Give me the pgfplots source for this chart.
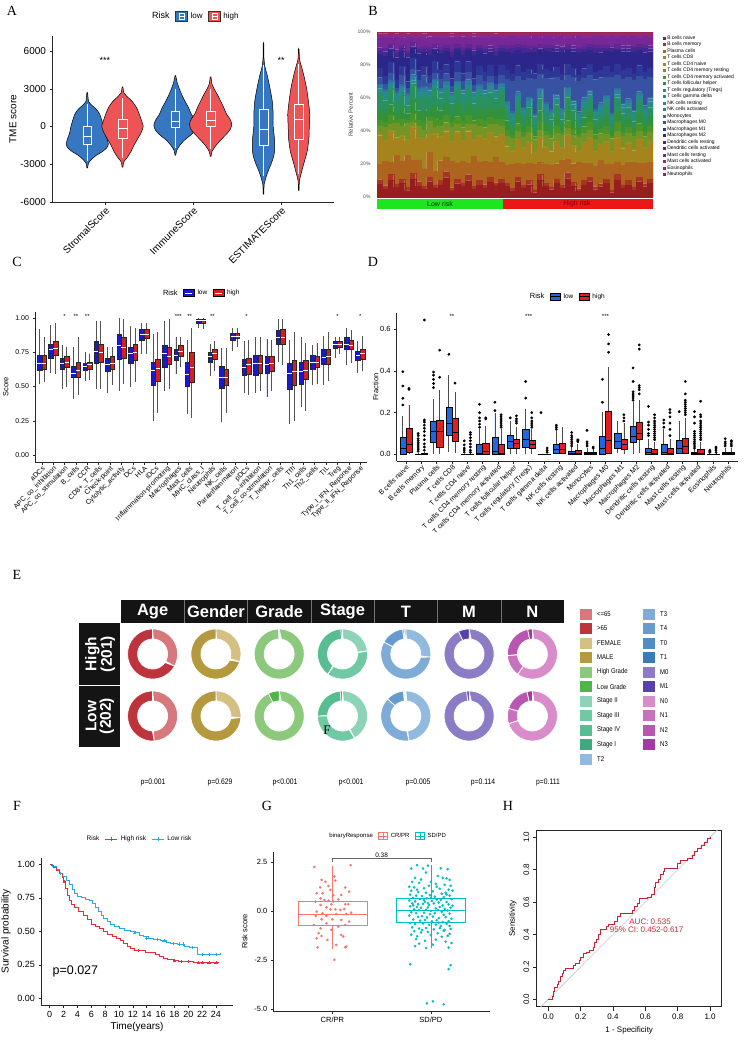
\documentclass[border=0pt]{standalone}
\usepackage{fontspec}
\setmainfont{Liberation Sans}
\newfontfamily\serifL{Liberation Serif}
\newfontfamily\narrow[FakeStretch=0.85]{Liberation Sans}
\usepackage{pgfplots}
\usepackage{pgfplotstable}
\pgfplotsset{compat=1.18}
\usepgfplotslibrary{statistics}
\newcommand{\fs}[2]{\fontsize{#1}{#2}\selectfont}
\definecolor{Alow}{RGB}{55,118,192}
\definecolor{Ahigh}{RGB}{238,84,86}
\definecolor{Clow}{RGB}{25,25,205}
\definecolor{Chigh}{RGB}{215,30,30}
\definecolor{Dlow}{RGB}{30,105,225}
\definecolor{Dhigh}{RGB}{228,30,30}
\definecolor{Fhigh}{RGB}{232,45,55}
\definecolor{Flow}{RGB}{40,172,228}
\definecolor{Gcr}{RGB}{248,118,109}
\definecolor{Gsd}{RGB}{0,191,196}
\definecolor{Hroc}{RGB}{200,35,50}
\definecolor{B1}{RGB}{150,30,30}
\definecolor{B2}{RGB}{168,52,38}
\definecolor{B3}{RGB}{172,100,30}
\definecolor{B4}{RGB}{165,132,30}
\definecolor{B5}{RGB}{150,145,35}
\definecolor{B6}{RGB}{115,148,38}
\definecolor{B7}{RGB}{75,148,40}
\definecolor{B8}{RGB}{50,145,60}
\definecolor{B9}{RGB}{40,145,95}
\definecolor{B10}{RGB}{40,142,118}
\definecolor{B11}{RGB}{40,138,140}
\definecolor{B12}{RGB}{45,125,158}
\definecolor{B13}{RGB}{55,105,160}
\definecolor{B14}{RGB}{55,82,160}
\definecolor{B15}{RGB}{45,55,150}
\definecolor{B16}{RGB}{45,38,138}
\definecolor{B17}{RGB}{70,38,145}
\definecolor{B18}{RGB}{95,38,150}
\definecolor{B19}{RGB}{120,40,150}
\definecolor{B20}{RGB}{140,40,140}
\definecolor{B21}{RGB}{150,40,115}
\definecolor{B22}{RGB}{160,35,75}
\definecolor{Bgreen}{RGB}{30,230,30}
\definecolor{Bred}{RGB}{236,22,22}
\definecolor{Ele}{RGB}{215,120,125}
\definecolor{Egt}{RGB}{190,52,60}
\definecolor{Efe}{RGB}{212,192,130}
\definecolor{Ema}{RGB}{180,153,62}
\definecolor{Ehg}{RGB}{140,201,125}
\definecolor{Elg}{RGB}{78,182,72}
\definecolor{Es2}{RGB}{142,211,184}
\definecolor{Es3}{RGB}{112,201,162}
\definecolor{Es4}{RGB}{88,190,146}
\definecolor{Es1}{RGB}{58,172,128}
\definecolor{Et2}{RGB}{146,186,222}
\definecolor{Et3}{RGB}{126,171,215}
\definecolor{Et4}{RGB}{104,155,205}
\definecolor{Et0}{RGB}{82,140,196}
\definecolor{Et1}{RGB}{62,122,182}
\definecolor{Em0}{RGB}{140,124,198}
\definecolor{Em1}{RGB}{90,64,170}
\definecolor{En0}{RGB}{216,140,202}
\definecolor{En1}{RGB}{200,114,190}
\definecolor{En2}{RGB}{184,86,176}
\definecolor{En3}{RGB}{166,58,162}
\pgfplotsset{
 gg/.style={scale only axis, axis x line*=bottom, axis y line*=left,
  axis line style={-, black!85, line width=0.6pt}, tick align=outside,
  major tick length=2.5pt, tick style={black!85, line width=0.5pt},
  /pgf/number format/assume math mode=true, clip mode=individual,
  legend columns=-1, boxplot/draw direction=y,
  legend style={draw=none, fill=none, anchor=center, inner sep=0pt,
   /tikz/every odd column/.append style={column sep=2.5pt},
   /tikz/every even column/.append style={column sep=5pt}, nodes={inner sep=0.5pt}}},
}
\newcommand{\vio}[3]{\addplot[forget plot, fill=#2, draw=black, line width=0.5pt, smooth, tension=0.35] table[row sep=\\, x expr=#1+\thisrow{w}, y=y] {y w\\#3};}
\newcommand{\abx}[6]{\addplot[forget plot, draw=white, line width=0.6pt, boxplot/draw direction=y, boxplot prepared={draw position=#1, lower whisker=#2, lower quartile=#3, median=#4, upper quartile=#5, upper whisker=#6, box extend=0.1, whisker extend=0}] coordinates {};}
\newcommand{\cbx}[7]{\addplot[forget plot, fill=#7, draw=black!85, line width=0.35pt, boxplot/draw direction=y, boxplot/every whisker/.style={draw=gray!65!black, line width=0.9pt}, boxplot/every median/.style={draw=white, line width=0.5pt}, boxplot prepared={draw position=#1, lower whisker=#2, lower quartile=#3, median=#4, upper quartile=#5, upper whisker=#6, box extend=0.4, whisker extend=0}] coordinates {};}
\newcommand{\dbx}[7]{\addplot[forget plot, fill=#7, draw=black, line width=0.4pt, boxplot/draw direction=y, boxplot/every whisker/.style={draw=gray!60!black, line width=0.8pt}, boxplot/every median/.style={draw=black, line width=0.9pt}, boxplot prepared={draw position=#1, lower whisker=#2, lower quartile=#3, median=#4, upper quartile=#5, upper whisker=#6, box extend=0.4, whisker extend=0}] coordinates {};}
\newcommand{\dbo}[8]{\addplot[forget plot, fill=#7, draw=black, line width=0.4pt, mark=*, mark size=1.2pt, mark options={fill=black, draw=black}, boxplot/draw direction=y, boxplot/every whisker/.style={draw=gray!60!black, line width=0.8pt}, boxplot/every median/.style={draw=black, line width=0.9pt}, boxplot prepared={draw position=#1, lower whisker=#2, lower quartile=#3, median=#4, upper quartile=#5, upper whisker=#6, box extend=0.4, whisker extend=0}] table[row sep=\\, y index=0] {v\\#8};}
\newcommand{\seg}[5]{\addplot[forget plot, fill=#5, draw=white, line width=0.7pt, variable=\t, samples at={0,0.025,...,1,1.0001,1.025,1.05,...,2}] ({#1+(\t<=1?25:15)*sin(360*(#3+(#4-#3)*(\t<=1?\t:2-\t)))}, {-#2+(\t<=1?25:15)*cos(360*(#3+(#4-#3)*(\t<=1?\t:2-\t)))}) -- cycle;}
\newcommand{\eleg}[4]{\fill[#3] (#1,-#2+5.5) rectangle (#1+12,-#2-5.5); \node[anchor=west, font=\narrow\fs{7}{8}, inner sep=0pt] at (#1+17,-#2) {#4};}
\newcommand{\st}[3]{\node[font=\fs{6}{7}] at (axis cs:#1,#2) {#3};}
\pgfplotstableread{
id a1 a2 a3 a4 a5 a6 a7 a8 a9 a10 a11 a12 a13 a14 a15 a16 a17 a18 a19 a20 a21 a22
1 8 3 10 18 1 5 4 7 9 1 3 2 1 4 6 9 2 2 6 2 1 1
2 5 2 15 12 1 8 3 6 7 1 4 1 1 3 5 12 3 2 7 1 1 1
3 11 4 8 20 1 4 6 7 10 1 2 2 1 5 7 8 1 3 4 2 1 1
4 6 2 18 10 1 9 2 5 6 1 4 1 1 2 5 14 3 2 8 1 1 1
5 9 3 12 16 1 6 5 8 8 1 3 2 1 6 6 10 2 2 5 2 1 1
6 4 2 20 9 1 10 2 4 5 1 5 1 1 3 4 15 3 1 9 1 1 1
7 12 4 9 22 1 3 6 8 11 1 2 3 1 4 7 7 1 3 3 2 1 1
8 7 3 14 14 1 7 4 6 8 1 3 2 1 5 6 11 2 2 6 2 1 1
9 5 2 11 19 1 5 5 7 9 1 3 2 1 7 6 9 2 2 5 2 1 1
10 10 3 16 11 1 8 3 5 7 1 4 1 1 3 5 13 3 2 7 1 1 1
11 6 2 9 24 1 4 6 8 11 1 2 3 1 4 8 7 1 3 4 2 1 1
12 8 3 13 15 1 7 4 6 8 1 3 2 1 6 6 11 2 2 6 2 1 1
13 13 4 10 17 1 5 5 7 9 1 3 2 1 5 6 9 2 2 5 2 1 1
14 4 2 17 12 1 9 3 5 7 1 4 1 1 4 5 14 3 2 8 1 1 1
15 9 3 11 20 1 5 5 8 10 1 2 2 1 6 7 8 1 3 4 2 1 1
16 7 2 14 13 1 8 4 6 7 1 4 2 1 5 5 12 3 2 7 1 1 1
17 11 4 8 21 1 4 6 7 10 1 2 3 1 5 7 8 1 3 4 2 1 1
18 5 2 19 10 1 10 2 5 6 1 5 1 1 4 4 15 3 1 8 1 1 1
19 8 3 12 17 1 6 5 7 9 1 3 2 1 6 6 10 2 2 5 2 1 1
20 6 2 15 14 1 7 4 6 8 1 3 2 1 5 6 12 2 2 6 2 1 1
21 10 3 10 19 1 5 5 7 9 1 3 2 1 4 7 9 2 2 5 2 1 1
22 7 2 16 12 1 8 3 5 7 1 4 1 1 3 5 13 3 2 7 1 1 1
23 9 3 11 18 1 5 5 8 10 1 2 2 1 5 7 9 2 2 5 2 1 1
24 7 2 12 12 1 6 4 6 6 1 3 2 1 14 6 12 2 2 5 2 1 1
25 4 2 16 8 1 8 2 5 4 1 4 1 1 20 5 14 3 2 6 1 1 1
26 10 3 9 15 1 5 5 7 7 1 3 2 1 10 7 10 2 2 4 2 1 1
27 6 2 14 10 1 7 3 5 5 1 4 1 1 18 5 13 3 2 6 1 1 1
28 8 3 11 13 1 6 4 6 6 1 3 2 1 12 6 11 2 2 5 2 1 1
29 3 2 18 7 1 9 2 4 4 1 5 1 1 24 4 15 3 1 7 1 1 1
30 11 4 8 16 1 4 6 7 8 1 2 3 1 9 7 9 1 3 4 2 1 1
31 7 2 13 11 1 7 3 6 5 1 4 2 1 16 6 12 2 2 6 1 1 1
32 5 2 15 9 1 8 3 5 5 1 4 1 1 21 5 13 3 2 6 1 1 1
33 9 3 10 14 1 5 5 7 7 1 3 2 1 11 7 10 2 2 5 2 1 1
34 6 2 17 8 1 9 2 4 4 1 5 1 1 19 4 15 3 1 7 1 1 1
35 12 4 9 15 1 4 5 7 8 1 2 3 1 8 7 9 1 3 4 2 1 1
36 7 3 12 11 1 7 4 6 6 1 3 2 1 15 6 11 2 2 5 2 1 1
37 4 2 19 7 1 10 2 4 4 1 5 1 1 22 4 16 3 1 8 1 1 1
38 8 3 11 13 1 6 4 6 6 1 3 2 1 13 6 11 2 2 5 2 1 1
39 10 3 9 16 1 5 5 7 7 1 3 2 1 10 7 9 2 2 4 2 1 1
40 5 2 14 9 1 8 3 5 5 1 4 1 1 20 5 13 3 2 6 1 1 1
41 7 2 16 10 1 7 3 5 5 1 4 2 1 17 5 12 3 2 6 1 1 1
42 9 3 10 14 1 5 5 7 7 1 3 2 1 12 7 10 2 2 5 2 1 1
43 3 2 18 8 1 9 2 4 4 1 5 1 1 25 4 14 3 1 7 1 1 1
44 11 4 8 15 1 4 6 7 8 1 2 3 1 9 7 9 1 3 4 2 1 1
45 6 2 13 11 1 7 3 6 5 1 4 2 1 16 6 12 2 2 6 1 1 1
46 8 3 12 12 1 6 4 6 6 1 3 2 1 14 6 11 2 2 5 2 1 1
47 5 2 17 8 1 9 2 4 4 1 5 1 1 21 4 15 3 1 7 1 1 1
48 10 3 9 15 1 5 5 7 7 1 3 2 1 10 7 10 2 2 4 2 1 1
49 7 2 14 10 1 7 3 5 5 1 4 2 1 18 5 13 3 2 6 1 1 1
50 9 3 11 13 1 6 4 6 6 1 3 2 1 13 6 11 2 2 5 2 1 1
}\Btab
\pgfplotstablecreatecol[create col/expr={\thisrow{a1}+\thisrow{a2}+\thisrow{a3}+\thisrow{a4}+\thisrow{a5}+\thisrow{a6}+\thisrow{a7}+\thisrow{a8}+\thisrow{a9}+\thisrow{a10}+\thisrow{a11}+\thisrow{a12}+\thisrow{a13}+\thisrow{a14}+\thisrow{a15}+\thisrow{a16}+\thisrow{a17}+\thisrow{a18}+\thisrow{a19}+\thisrow{a20}+\thisrow{a21}+\thisrow{a22}}]{tot}{\Btab}
\begin{document}
\begin{tikzpicture}[x=1pt,y=1pt]
\useasboundingbox (0,0) rectangle (745,-1044);
% ================= A (TME score in thousands) =================
\begin{axis}[gg, at={(52pt,-202pt)}, anchor=south west, width=282pt, height=166pt,
 xmin=0.4, xmax=3.6, ymin=-6, ymax=7.2,
 xtick={1,2,3}, xticklabels={StromalScore,ImmuneScore,ESTIMATEScore},
 xticklabel style={rotate=45, anchor=north east, font=\fs{10}{12}, inner sep=1pt},
 ytick={-6,-3,0,3,6}, yticklabels={-6000,-3000,0,3000,6000},
 yticklabel style={font=\fs{10}{12}},
 ylabel={TME score}, ylabel style={font=\fs{10}{12}}, ylabel shift=-3pt,
 legend style={at={(0.504,1.12)}, font=\fs{8}{10}}]
\addlegendimage{empty legend}\addlegendentry{\fs{9}{10}Risk}
\addlegendimage{legend image code/.code={\draw[fill=Alow,draw=black!80,line width=0.4pt](0pt,-5pt) rectangle (12pt,5pt);\draw[white,line width=0.5pt](3.5pt,-3.2pt) rectangle (8.5pt,3.2pt)(3.5pt,0pt)--(8.5pt,0pt);}}\addlegendentry{low}
\addlegendimage{legend image code/.code={\draw[fill=Ahigh,draw=black!80,line width=0.4pt](0pt,-5pt) rectangle (12pt,5pt);\draw[white,line width=0.5pt](3.5pt,-3.2pt) rectangle (8.5pt,3.2pt)(3.5pt,0pt)--(8.5pt,0pt);}}\addlegendentry{high}
\vio{0.8}{Alow}{-3.3 0.004\\-2.9 0.015\\-2.6 0.05\\-2.3 0.1\\-2.0 0.17\\-1.7 0.22\\-1.4 0.24\\-1.0 0.225\\-0.5 0.2\\0 0.185\\0.5 0.165\\1.0 0.14\\1.4 0.1\\1.7 0.05\\2.0 0.015\\2.7 0.004\\2.7 -0.004\\2.0 -0.015\\1.7 -0.05\\1.4 -0.1\\1.0 -0.14\\0.5 -0.165\\0 -0.185\\-0.5 -0.2\\-1.0 -0.225\\-1.4 -0.24\\-1.7 -0.22\\-2.0 -0.17\\-2.3 -0.1\\-2.6 -0.05\\-2.9 -0.015\\-3.3 -0.004\\}
\vio{1.2}{Ahigh}{-3.25 0.004\\-2.8 0.015\\-2.5 0.05\\-2.0 0.095\\-1.5 0.13\\-1.0 0.17\\-0.5 0.21\\0 0.235\\0.5 0.215\\1.0 0.19\\1.5 0.16\\2.0 0.11\\2.4 0.05\\2.7 0.015\\3.15 0.004\\3.15 -0.004\\2.7 -0.015\\2.4 -0.05\\2.0 -0.11\\1.5 -0.16\\1.0 -0.19\\0.5 -0.215\\0 -0.235\\-0.5 -0.21\\-1.0 -0.17\\-1.5 -0.13\\-2.0 -0.095\\-2.5 -0.05\\-2.8 -0.015\\-3.25 -0.004\\}
\vio{1.8}{Alow}{-2.3 0.004\\-1.9 0.015\\-1.5 0.05\\-1.1 0.1\\-0.7 0.17\\-0.3 0.225\\0.1 0.245\\0.5 0.225\\1.0 0.18\\1.5 0.15\\2.0 0.11\\2.5 0.075\\3.0 0.045\\3.5 0.02\\4.05 0.004\\4.05 -0.004\\3.5 -0.02\\3.0 -0.045\\2.5 -0.075\\2.0 -0.11\\1.5 -0.15\\1.0 -0.18\\0.5 -0.225\\0.1 -0.245\\-0.3 -0.225\\-0.7 -0.17\\-1.1 -0.1\\-1.5 -0.05\\-1.9 -0.015\\-2.3 -0.004\\}
\vio{2.2}{Ahigh}{-2.4 0.004\\-2.0 0.015\\-1.6 0.05\\-1.1 0.11\\-0.6 0.18\\-0.2 0.225\\0.2 0.24\\0.6 0.22\\1.0 0.18\\1.5 0.15\\2.0 0.115\\2.5 0.08\\3.0 0.04\\3.4 0.015\\3.95 0.004\\3.95 -0.004\\3.4 -0.015\\3.0 -0.04\\2.5 -0.08\\2.0 -0.115\\1.5 -0.15\\1.0 -0.18\\0.6 -0.22\\0.2 -0.24\\-0.2 -0.225\\-0.6 -0.18\\-1.1 -0.11\\-1.6 -0.05\\-2.0 -0.015\\-2.4 -0.004\\}
\vio{2.8}{Alow}{-5.4 0.003\\-4.6 0.008\\-4.0 0.03\\-3.5 0.055\\-3.0 0.085\\-2.5 0.11\\-2.0 0.125\\-1.0 0.125\\0 0.11\\1.0 0.11\\2.0 0.1\\3.0 0.075\\4.0 0.045\\4.8 0.015\\5.5 0.005\\6.6 0.003\\6.6 -0.003\\5.5 -0.005\\4.8 -0.015\\4.0 -0.045\\3.0 -0.075\\2.0 -0.1\\1.0 -0.11\\0 -0.11\\-1.0 -0.125\\-2.0 -0.125\\-2.5 -0.11\\-3.0 -0.085\\-3.5 -0.055\\-4.0 -0.03\\-4.6 -0.008\\-5.4 -0.003\\}
\vio{3.2}{Ahigh}{-5.1 0.003\\-4.3 0.008\\-3.8 0.025\\-3.0 0.055\\-2.0 0.095\\-1.0 0.115\\0 0.12\\1.0 0.125\\2.0 0.11\\3.0 0.09\\4.0 0.06\\4.8 0.03\\5.3 0.01\\6.15 0.003\\6.15 -0.003\\5.3 -0.01\\4.8 -0.03\\4.0 -0.06\\3.0 -0.09\\2.0 -0.11\\1.0 -0.125\\0 -0.12\\-1.0 -0.115\\-2.0 -0.095\\-3.0 -0.055\\-3.8 -0.025\\-4.3 -0.008\\-5.1 -0.003\\}
\abx{0.8}{-2.7}{-1.4}{-0.75}{0.05}{1.8}
\abx{1.2}{-2.5}{-0.9}{-0.1}{0.55}{2.3}
\abx{1.8}{-1.7}{-0.08}{0.4}{1.25}{3.0}
\abx{2.2}{-1.8}{0}{0.5}{1.25}{3.0}
\abx{2.8}{-3.9}{-1.5}{-0.25}{1.35}{4.9}
\abx{3.2}{-3.8}{-1.05}{0.6}{1.8}{5.0}
\node[font=\fs{9}{10}] at (axis cs:1,5.3) {***};
\node[font=\fs{9}{10}] at (axis cs:3,5.3) {**};
\end{axis}
% ================= B =================
\begin{axis}[scale only axis, at={(377pt,-197pt)}, anchor=south west, width=276pt, height=165pt,
 ybar stacked, bar width=1, xmin=0.5, xmax=50.5, ymin=0, ymax=100,
 axis line style={draw=none}, xtick=\empty, ytick={0,20,40,60,80,100},
 major tick length=0pt, /pgf/number format/assume math mode=true,
 yticklabel={\pgfmathprintnumber{\tick}\%},
 yticklabel style={font=\fs{5}{6}, text=black!70, xshift=-3pt},
 ylabel={Relative Percent}, ylabel style={font=\fs{6}{7}, text=black!75, yshift=-2pt},
 legend columns=1, legend cell align=left,
 legend style={draw=none, fill=none, at={(1.035,0.985)}, anchor=north west, inner sep=0pt, font=\fs{5}{6}, nodes={inner sep=0.6pt, text height=4.1pt, text depth=1.2pt}, /tikz/every odd column/.append style={column sep=1.5pt}},
 legend entries={B cells naive,B cells memory,Plasma cells,T cells CD8,T cells CD4 naive,T cells CD4 memory resting,T cells CD4 memory activated,T cells follicular helper,T cells regulatory (Tregs),T cells gamma delta,NK cells resting,NK cells activated,Monocytes,Macrophages M0,Macrophages M1,Macrophages M2,Dendritic cells resting,Dendritic cells activated,Mast cells resting,Mast cells activated,Eosinophils,Neutrophils}]
\pgfplotsinvokeforeach{1,...,22}{\addplot[fill=B#1, draw=B#1, line width=0.1pt, legend image code/.code={\fill[B#1] (0pt,-1.1pt) rectangle (2.2pt,1.1pt);}] table[x=id, y expr=100*\thisrow{a#1}/\thisrow{tot}] {\Btab};}
\end{axis}
\fill[Bgreen] (377,-199) rectangle (503,-208.5);
\fill[Bred] (503,-199) rectangle (653,-208.5);
\node[font=\fs{7}{8}, text=black!80!green] at (440,-203.8) {Low risk};
\node[font=\fs{7}{8}, text=red!50!black] at (577,-203.8) {High risk};
% ================= C =================
\begin{scope}
\clip (0,-255) rectangle (371,-531);
\begin{axis}[gg, at={(35pt,-462pt)}, anchor=south west, width=332pt, height=150.3pt,
 xmin=0.4, xmax=29.6, ymin=-0.051, ymax=1.046,
 xtick={1,...,29}, xticklabels={aDCs,APC\_co\_inhibition,APC\_co\_stimulation,B\_cells,CCR,CD8+\_T\_cells,Check-point,Cytolytic\_activity,DCs,HLA,iDCs,Inflammation-promoting,Macrophages,Mast\_cells,MHC\_class\_I,Neutrophils,NK\_cells,Parainflammation,pDCs,T\_cell\_co-inhibition,T\_cell\_co-stimulation,T\_helper\_cells,Tfh,Th1\_cells,Th2\_cells,TIL,Treg,Type\_I\_IFN\_Reponse,Type\_II\_IFN\_Reponse},
 xticklabel style={rotate=45, anchor=north east, font=\fs{7}{8}, inner sep=0.5pt},
 ytick={0,0.25,0.5,0.75,1},
 yticklabel style={font=\fs{7}{8}, /pgf/number format/.cd, fixed, fixed zerofill, precision=2},
 ylabel={Score}, ylabel style={font=\fs{7.5}{9}},
 legend style={at={(0.497,1.124)}, font=\fs{6.5}{8}}]
\addlegendimage{empty legend}\addlegendentry{\fs{7.5}{9}Risk}
\addlegendimage{legend image code/.code={\draw[fill=Clow,draw=black,line width=0.4pt](0pt,-3.5pt) rectangle (11pt,3.5pt);\draw[white,line width=0.4pt](2pt,0pt)--(9pt,0pt);}}\addlegendentry{low}
\addlegendimage{legend image code/.code={\draw[fill=Chigh,draw=black,line width=0.4pt](0pt,-3.5pt) rectangle (11pt,3.5pt);\draw[white,line width=0.4pt](2pt,0pt)--(9pt,0pt);}}\addlegendentry{high}
\cbx{0.8}{0.52}{0.62}{0.67}{0.73}{0.92}{Clow}\cbx{1.2}{0.53}{0.63}{0.67}{0.73}{0.86}{Chigh}
\cbx{1.8}{0.60}{0.71}{0.77}{0.81}{0.95}{Clow}\cbx{2.2}{0.59}{0.73}{0.78}{0.83}{0.96}{Chigh}
\cbx{2.8}{0.48}{0.63}{0.67}{0.71}{0.80}{Clow}\cbx{3.2}{0.50}{0.64}{0.68}{0.72}{0.79}{Chigh}
\cbx{3.8}{0.41}{0.57}{0.60}{0.65}{0.79}{Clow}\cbx{4.2}{0.44}{0.57}{0.62}{0.68}{0.86}{Chigh}
\cbx{4.8}{0.54}{0.62}{0.65}{0.67}{0.75}{Clow}\cbx{5.2}{0.55}{0.63}{0.66}{0.68}{0.74}{Chigh}
\cbx{5.8}{0.48}{0.67}{0.76}{0.83}{0.98}{Clow}\cbx{6.2}{0.48}{0.68}{0.75}{0.81}{0.98}{Chigh}
\cbx{6.8}{0.45}{0.61}{0.66}{0.71}{0.79}{Clow}\cbx{7.2}{0.51}{0.63}{0.67}{0.72}{0.79}{Chigh}
\cbx{7.8}{0.47}{0.70}{0.80}{0.88}{1.00}{Clow}\cbx{8.2}{0.52}{0.71}{0.79}{0.86}{0.99}{Chigh}
\cbx{8.8}{0.50}{0.67}{0.74}{0.79}{0.94}{Clow}\cbx{9.2}{0.53}{0.69}{0.75}{0.81}{0.93}{Chigh}
\cbx{9.8}{0.74}{0.84}{0.88}{0.92}{0.96}{Clow}\cbx{10.2}{0.74}{0.85}{0.88}{0.92}{0.96}{Chigh}
\cbx{10.8}{0.25}{0.51}{0.62}{0.68}{0.88}{Clow}\cbx{11.2}{0.31}{0.54}{0.63}{0.70}{0.90}{Chigh}
\cbx{11.8}{0.47}{0.64}{0.74}{0.80}{0.98}{Clow}\cbx{12.2}{0.48}{0.66}{0.72}{0.79}{0.99}{Chigh}
\cbx{12.8}{0.59}{0.69}{0.73}{0.77}{0.86}{Clow}\cbx{13.2}{0.64}{0.72}{0.76}{0.80}{0.86}{Chigh}
\cbx{13.8}{0.30}{0.50}{0.59}{0.68}{0.84}{Clow}\cbx{14.2}{0.27}{0.53}{0.64}{0.75}{0.93}{Chigh}
\cbx{14.8}{0.93}{0.96}{0.98}{0.995}{1.00}{Clow}\cbx{15.2}{0.92}{0.96}{0.98}{0.99}{1.00}{Chigh}
\cbx{15.8}{0.58}{0.68}{0.72}{0.75}{0.81}{Clow}\cbx{16.2}{0.61}{0.70}{0.74}{0.77}{0.83}{Chigh}
\cbx{16.8}{0.24}{0.49}{0.57}{0.65}{0.78}{Clow}\cbx{17.2}{0.31}{0.51}{0.57}{0.63}{0.78}{Chigh}
\cbx{17.8}{0.76}{0.84}{0.87}{0.89}{0.93}{Clow}\cbx{18.2}{0.79}{0.85}{0.87}{0.89}{0.93}{Chigh}
\cbx{18.8}{0.45}{0.58}{0.64}{0.70}{0.83}{Clow}\cbx{19.2}{0.44}{0.59}{0.66}{0.71}{0.84}{Chigh}
\cbx{19.8}{0.45}{0.58}{0.67}{0.73}{0.86}{Clow}\cbx{20.2}{0.47}{0.60}{0.67}{0.73}{0.86}{Chigh}
\cbx{20.8}{0.42}{0.60}{0.66}{0.72}{0.85}{Clow}\cbx{21.2}{0.47}{0.61}{0.67}{0.72}{0.84}{Chigh}
\cbx{21.8}{0.68}{0.81}{0.86}{0.91}{0.99}{Clow}\cbx{22.2}{0.66}{0.81}{0.86}{0.92}{0.99}{Chigh}
\cbx{22.8}{0.23}{0.48}{0.60}{0.67}{0.84}{Clow}\cbx{23.2}{0.25}{0.51}{0.61}{0.69}{0.90}{Chigh}
\cbx{23.8}{0.35}{0.52}{0.61}{0.68}{0.86}{Clow}\cbx{24.2}{0.32}{0.55}{0.62}{0.69}{0.82}{Chigh}
\cbx{24.8}{0.51}{0.63}{0.68}{0.73}{0.80}{Clow}\cbx{25.2}{0.52}{0.64}{0.68}{0.72}{0.82}{Chigh}
\cbx{25.8}{0.51}{0.66}{0.71}{0.77}{0.87}{Clow}\cbx{26.2}{0.54}{0.66}{0.72}{0.77}{0.90}{Chigh}
\cbx{26.8}{0.71}{0.78}{0.81}{0.83}{0.86}{Clow}\cbx{27.2}{0.74}{0.79}{0.81}{0.83}{0.86}{Chigh}
\cbx{27.8}{0.66}{0.77}{0.81}{0.86}{0.93}{Clow}\cbx{28.2}{0.67}{0.77}{0.80}{0.84}{0.91}{Chigh}
\cbx{28.8}{0.60}{0.69}{0.73}{0.76}{0.83}{Clow}\cbx{29.2}{0.61}{0.70}{0.74}{0.77}{0.87}{Chigh}
\st{3}{1.015}{*}\st{4}{1.015}{**}\st{5}{1.015}{**}\st{13}{1.015}{***}\st{14}{1.015}{**}\st{16}{1.015}{**}\st{19}{1.015}{*}\st{27}{1.015}{*}\st{29}{1.015}{*}
\end{axis}
\end{scope}
% ================= D =================
\begin{scope}
\clip (371,-255) rectangle (745,-531);
\begin{axis}[gg, at={(396.7pt,-461pt)}, anchor=south west, width=340.8pt, height=147.7pt,
 xmin=0.4, xmax=22.6, ymin=-0.032, ymax=0.677,
 xtick={1,...,22}, xticklabels={B cells naive,B cells memory,Plasma cells,T cells CD8,T cells CD4 naive,T cells CD4 memory resting,T cells CD4 memory activated,T cells follicular helper,T cells regulatory (Tregs),T cells gamma delta,NK cells resting,NK cells activated,Monocytes,Macrophages M0,Macrophages M1,Macrophages M2,Dendritic cells resting,Dendritic cells activated,Mast cells resting,Mast cells activated,Eosinophils,Neutrophils},
 xticklabel style={rotate=45, anchor=north east, font=\fs{7}{8}, inner sep=0.5pt},
 ytick={0,0.2,0.4,0.6},
 yticklabel style={font=\fs{7.5}{9}, /pgf/number format/.cd, fixed, fixed zerofill, precision=1},
 ylabel={Fraction}, ylabel style={font=\fs{7.5}{9}}, ylabel shift=-5pt,
 legend style={at={(0.497,1.112)}, font=\fs{6.5}{8}}]
\addlegendimage{empty legend}\addlegendentry{\fs{7.5}{9}Risk}
\addlegendimage{legend image code/.code={\draw[fill=Dlow,draw=black,line width=0.4pt](0pt,-3.5pt) rectangle (10pt,3.5pt);\draw[black,line width=0.6pt](0pt,0pt)--(10pt,0pt);}}\addlegendentry{low}
\addlegendimage{legend image code/.code={\draw[fill=Dhigh,draw=black,line width=0.4pt](0pt,-3.5pt) rectangle (10pt,3.5pt);\draw[black,line width=0.6pt](0pt,0pt)--(10pt,0pt);}}\addlegendentry{high}
\dbo{0.8}{0}{0.003}{0.029}{0.083}{0.186}{Dlow}{0.237\\0.269\\0.328\\0.397\\}
\dbo{1.2}{0}{0.008}{0.046}{0.125}{0.237}{Dhigh}{0.312\\0.317\\}
\dbo{1.8}{0}{0}{0}{0.003}{0.008}{Dlow}{0.015\\0.025\\0.035\\0.045\\0.055\\0.065\\0.075\\0.09\\0.10\\}
\dbo{2.2}{0}{0}{0}{0.004}{0.01}{Dhigh}{0.02\\0.035\\0.05\\0.07\\0.09\\0.11\\0.125\\0.14\\0.155\\0.165\\0.645\\}
\dbo{2.8}{0}{0.06}{0.112}{0.16}{0.265}{Dlow}{0.32\\0.34\\0.36\\0.38\\0.395\\}
\dbo{3.2}{0}{0.035}{0.112}{0.165}{0.31}{Dhigh}{0.37\\0.50\\}
\dbo{3.8}{0.01}{0.09}{0.148}{0.225}{0.38}{Dlow}{0.48\\}
\dbo{4.2}{0.005}{0.065}{0.103}{0.172}{0.30}{Dhigh}{0.342\\}
\dbo{4.8}{0}{0}{0}{0}{0.001}{Dlow}{0.01\\0.02\\0.03\\0.045\\0.065\\}
\dbo{5.2}{0}{0}{0}{0.002}{0.005}{Dhigh}{0.01\\0.02\\0.035\\0.05\\0.065\\0.08\\0.095\\0.105\\}
\dbo{5.8}{0}{0}{0.005}{0.05}{0.12}{Dlow}{0.13\\0.145\\0.16\\0.175\\0.20\\0.24\\}
\dbo{6.2}{0}{0}{0.015}{0.055}{0.135}{Dhigh}{0.17\\0.175\\}
\dbo{6.8}{0}{0}{0.015}{0.08}{0.20}{Dlow}{0.21\\0.25\\}
\dbo{7.2}{0}{0}{0.005}{0.05}{0.12}{Dhigh}{0.13\\0.14\\0.15\\0.16\\0.17\\0.18\\0.19\\}
\dbo{7.8}{0}{0.03}{0.06}{0.09}{0.16}{Dlow}{0.175\\}
\dbo{8.2}{0}{0.03}{0.05}{0.075}{0.13}{Dhigh}{0.15\\0.16\\0.17\\0.185\\}
\dbo{8.8}{0}{0.035}{0.07}{0.12}{0.22}{Dlow}{0.27\\0.35\\}
\dbo{9.2}{0}{0.03}{0.048}{0.068}{0.12}{Dhigh}{0.13\\0.14\\0.15\\0.16\\0.175\\0.20\\}
\dbo{9.8}{0}{0}{0}{0}{0.001}{Dlow}{0.20\\}
\dbo{10.2}{0}{0}{0}{0.002}{0.004}{Dhigh}{0.01\\0.02\\0.03\\}
\dbo{10.8}{0}{0.005}{0.025}{0.048}{0.11}{Dlow}{0.12\\0.13\\0.14\\}
\dbx{11.2}{0}{0.005}{0.022}{0.053}{0.13}{Dhigh}
\dbo{11.8}{0}{0}{0.003}{0.015}{0.035}{Dlow}{0.04\\0.05\\0.06\\0.07\\0.08\\0.09\\0.105\\}
\dbo{12.2}{0}{0}{0.005}{0.022}{0.05}{Dhigh}{0.06\\0.065\\0.07\\}
\dbo{12.8}{0}{0}{0.003}{0.012}{0.03}{Dlow}{0.04\\0.05\\0.06\\0.115\\}
\dbo{13.2}{0}{0}{0.002}{0.01}{0.025}{Dhigh}{0.03\\0.035\\}
\dbo{13.8}{0}{0.003}{0.03}{0.085}{0.205}{Dlow}{0.25\\0.36\\}
\dbo{14.2}{0}{0.005}{0.065}{0.208}{0.42}{Dhigh}{0.49\\0.53\\0.575\\}
\dbx{14.8}{0.005}{0.03}{0.063}{0.10}{0.16}{Dlow}
\dbo{15.2}{0}{0.025}{0.048}{0.075}{0.15}{Dhigh}{0.16\\0.175\\0.19\\}
\dbo{15.8}{0}{0.058}{0.085}{0.135}{0.25}{Dlow}{0.26\\0.27\\0.28\\0.29\\0.30\\0.35\\0.415\\}
\dbo{16.2}{0.005}{0.075}{0.10}{0.152}{0.26}{Dhigh}{0.29\\0.31\\0.32\\0.33\\0.505\\0.525\\}
\dbo{16.8}{0}{0}{0.01}{0.03}{0.075}{Dlow}{0.09\\0.10\\0.12\\0.14\\0.155\\0.23\\}
\dbo{17.2}{0}{0}{0.005}{0.025}{0.06}{Dhigh}{0.07\\0.08\\0.09\\0.10\\0.11\\0.12\\0.13\\0.14\\0.15\\0.16\\0.175\\0.19\\}
\dbo{17.8}{0}{0}{0.01}{0.05}{0.12}{Dlow}{0.13\\0.15\\0.165\\}
\dbo{18.2}{0}{0}{0.005}{0.03}{0.075}{Dhigh}{0.09\\0.12\\0.15\\0.18\\0.20\\0.215\\}
\dbo{18.8}{0}{0.005}{0.03}{0.07}{0.16}{Dlow}{0.205\\}
\dbo{19.2}{0}{0.005}{0.04}{0.078}{0.175}{Dhigh}{0.19\\0.20\\0.21\\0.22\\0.23\\0.24\\0.25\\0.26\\0.29\\0.35\\}
\dbo{19.8}{0}{0}{0.002}{0.01}{0.025}{Dlow}{0.03\\0.04\\0.05\\0.06\\0.07\\0.08\\0.09\\0.10\\0.11\\0.15\\0.18\\0.205\\}
\dbo{20.2}{0}{0}{0.005}{0.025}{0.06}{Dhigh}{0.07\\0.08\\0.09\\0.10\\0.11\\0.12\\0.13\\0.14\\0.15\\0.16\\0.18\\0.19\\0.255\\}
\dbo{20.8}{0}{0}{0}{0.002}{0.005}{Dlow}{0.01\\0.015\\0.02\\}
\dbo{21.2}{0}{0}{0}{0.003}{0.008}{Dhigh}{0.01\\0.02\\0.03\\0.035\\}
\dbo{21.8}{0}{0}{0.003}{0.012}{0.03}{Dlow}{0.04\\0.05\\0.06\\0.075\\}
\dbo{22.2}{0}{0}{0.004}{0.012}{0.03}{Dhigh}{0.04\\0.05\\0.06\\0.065\\}
\st{4}{0.662}{**}\st{9}{0.662}{***}\st{14}{0.662}{***}
\end{axis}
\end{scope}
% ================= E (canvas) =================
\begin{axis}[at={(0pt,-1044pt)}, anchor=south west, scale only axis, width=745pt, height=1044pt,
 xmin=0, xmax=745, ymin=-1044, ymax=0, hide axis, clip=false]
\seg{152.6}{654}{0}{0.33}{Ele}\seg{152.6}{654}{0.33}{1}{Egt}
\seg{152.6}{716}{0}{0.49}{Ele}\seg{152.6}{716}{0.49}{1}{Egt}
\seg{215.9}{654}{0}{0.30}{Efe}\seg{215.9}{654}{0.30}{1}{Ema}
\seg{215.9}{716}{0}{0.26}{Efe}\seg{215.9}{716}{0.26}{1}{Ema}
\seg{279.2}{654}{0}{0.995}{Ehg}\seg{279.2}{654}{0.995}{1}{Elg}
\seg{279.2}{716}{0}{0.93}{Ehg}\seg{279.2}{716}{0.93}{1}{Elg}
\seg{342.5}{654}{0}{0.23}{Es2}\seg{342.5}{654}{0.23}{0.60}{Es3}\seg{342.5}{654}{0.60}{0.99}{Es4}\seg{342.5}{654}{0.99}{1}{Es1}
\seg{342.5}{716}{0}{0.42}{Es2}\seg{342.5}{716}{0.42}{0.75}{Es3}\seg{342.5}{716}{0.75}{0.985}{Es4}\seg{342.5}{716}{0.985}{1}{Es1}
\seg{405.8}{654}{0}{0.27}{Et2}\seg{405.8}{654}{0.27}{0.83}{Et3}\seg{405.8}{654}{0.83}{0.98}{Et4}\seg{405.8}{654}{0.98}{0.99}{Et0}\seg{405.8}{654}{0.99}{1}{Et1}
\seg{405.8}{716}{0}{0.48}{Et2}\seg{405.8}{716}{0.48}{0.87}{Et3}\seg{405.8}{716}{0.87}{0.985}{Et4}\seg{405.8}{716}{0.985}{0.993}{Et0}\seg{405.8}{716}{0.993}{1}{Et1}
\seg{469.1}{654}{0}{0.93}{Em0}\seg{469.1}{654}{0.93}{1}{Em1}
\seg{469.1}{716}{0}{0.985}{Em0}\seg{469.1}{716}{0.985}{1}{Em1}
\seg{532.4}{654}{0}{0.60}{En0}\seg{532.4}{654}{0.60}{0.74}{En1}\seg{532.4}{654}{0.74}{0.97}{En2}\seg{532.4}{654}{0.97}{1}{En3}
\seg{532.4}{716}{0}{0.70}{En0}\seg{532.4}{716}{0.70}{0.80}{En1}\seg{532.4}{716}{0.80}{0.965}{En2}\seg{532.4}{716}{0.965}{1}{En3}
\end{axis}
% E header and labels
\fill[black!92] (121,-600) rectangle (564,-622.7);
\foreach \xx in {184.3,247.6,310.9,374.2,437.5,500.8}{\draw[black!55, line width=0.4pt] (\xx,-600) -- (\xx,-622.7);}
\foreach \xx/\lab in {152.6/Age,215.9/Gender,279.2/Grade,342.5/Stage,405.8/T,469.1/M,532.4/N}{\node[white, font=\bfseries\fs{16.5}{16.5}] at (\xx,-611.5) {\lab};}
\fill[black!92] (79,-622.7) rectangle (120,-684.6);
\fill[black!92] (79,-685.6) rectangle (120,-747);
\node[rotate=90, white, align=center, font=\bfseries\fs{15.5}{14.5}] at (100,-654) {High\\(201)};
\node[rotate=90, white, align=center, font=\bfseries\fs{15.5}{14.5}] at (100,-716) {Low\\(202)};
\node[font=\serifL\fs{13}{13}] at (327,-730) {F};
\eleg{580}{614}{Ele}{<=65}\eleg{580}{628.5}{Egt}{>65}\eleg{580}{643}{Efe}{FEMALE}\eleg{580}{657.5}{Ema}{MALE}
\eleg{580}{672}{Ehg}{High Grade}\eleg{580}{686.5}{Elg}{Low Grade}\eleg{580}{701}{Es2}{Stage II}\eleg{580}{715.5}{Es3}{Stage III}
\eleg{580}{730}{Es4}{Stage IV}\eleg{580}{744.5}{Es1}{Stage I}\eleg{580}{759}{Et2}{T2}
\eleg{643}{614}{Et3}{T3}\eleg{643}{628.5}{Et4}{T4}\eleg{643}{643}{Et0}{T0}\eleg{643}{657.5}{Et1}{T1}
\eleg{643}{672}{Em0}{M0}\eleg{643}{686.5}{Em1}{M1}\eleg{643}{701}{En0}{N0}\eleg{643}{715.5}{En1}{N1}
\eleg{643}{730}{En2}{N2}\eleg{643}{744.5}{En3}{N3}
\foreach \xx/\lab in {153/p=0.001,220/p=0.629,285/p<0.001,351/p<0.001,418/p=0.005,483/p=0.114,548/p=0.111}{\node[font=\narrow\fs{8}{9}] at (\xx,-783) {\lab};}
% ================= F =================
\begin{axis}[gg, at={(41pt,-1005pt)}, anchor=south west, width=192pt, height=147.3pt,
 xmin=-1.26, xmax=26.46, ymin=-0.05, ymax=1.05,
 xtick={0,2,4,6,8,10,12,14,16,18,20,22,24}, ytick={0,0.25,0.5,0.75,1},
 yticklabel style={/pgf/number format/.cd, fixed, fixed zerofill, precision=2},
 ticklabel style={font=\fs{9}{10}},
 xlabel={Time(years)}, ylabel={Survival probability},
 label style={font=\fs{10}{11}}, xlabel style={yshift=2pt},
 legend style={at={(0.504,1.127)}, font=\fs{6.5}{8}}]
\addlegendimage{empty legend}\addlegendentry{Risk}
\addlegendimage{legend image code/.code={\draw[Fhigh,line width=0.9pt](0pt,0pt)--(12pt,0pt);\draw[Fhigh,line width=0.6pt](6pt,-2pt)--(6pt,2pt);}}\addlegendentry{High risk}
\addlegendimage{legend image code/.code={\draw[Flow,line width=0.9pt](0pt,0pt)--(12pt,0pt);\draw[Flow,line width=0.6pt](6pt,-2pt)--(6pt,2pt);}}\addlegendentry{Low risk}
\addplot[forget plot, Flow, line width=0.9pt, const plot] coordinates {(0,1)(0.4,0.985)(0.9,0.96)(1.4,0.935)(1.9,0.91)(2.4,0.88)(2.9,0.85)(3.3,0.81)(3.6,0.78)(4.0,0.76)(4.6,0.75)(5.2,0.74)(5.8,0.73)(6.2,0.71)(6.6,0.68)(7.0,0.65)(7.4,0.62)(7.8,0.60)(8.3,0.575)(8.8,0.555)(9.4,0.54)(10.0,0.525)(10.8,0.51)(11.6,0.50)(12.4,0.49)(13.0,0.47)(13.6,0.46)(14.3,0.45)(15.0,0.44)(16.0,0.43)(16.8,0.42)(17.5,0.41)(18.5,0.405)(19.5,0.39)(20.2,0.38)(21.2,0.38)(21.3,0.33)(22.5,0.33)(24.6,0.335)};
\addplot[forget plot, Fhigh, line width=0.9pt, const plot] coordinates {(0,1)(0.3,0.99)(0.6,0.975)(1.0,0.955)(1.4,0.93)(1.8,0.9)(2.0,0.87)(2.2,0.82)(2.5,0.77)(2.8,0.73)(3.2,0.70)(3.6,0.68)(4.2,0.65)(4.8,0.62)(5.4,0.59)(6.0,0.555)(6.6,0.54)(7.2,0.52)(7.8,0.50)(8.4,0.48)(9.0,0.465)(9.6,0.45)(10.2,0.43)(10.7,0.41)(11.2,0.39)(11.7,0.37)(12.3,0.36)(13.0,0.355)(13.8,0.345)(14.6,0.34)(15.3,0.33)(15.9,0.315)(16.4,0.30)(17.0,0.29)(17.8,0.28)(18.6,0.275)(20.8,0.27)(21.2,0.265)(24.5,0.265)};
\addplot[forget plot, only marks, Flow, mark=+, mark size=1.6pt] coordinates {(1.5,0.935)(12.2,0.49)(14,0.45)(15.5,0.44)(16.5,0.43)(17.8,0.41)(18.7,0.405)(19.2,0.405)(20.5,0.38)(22,0.33)(23,0.33)(24,0.33)};
\addplot[forget plot, only marks, Fhigh, mark=+, mark size=1.6pt] coordinates {(2.1,0.87)(12.8,0.36)(18,0.28)(19,0.275)(20,0.275)(21.5,0.265)(22,0.265)(23,0.265)(24,0.265)};
\node[font=\fs{12.5}{13}] at (axis cs:3.7,0.2) {p=0.027};
\end{axis}
% ================= G =================
\begin{axis}[gg, at={(273.3pt,-1011pt)}, anchor=south west, width=216.7pt, height=159.3pt,
 xmin=0.4, xmax=2.6, ymin=-5.09, ymax=3.04, xtick={1,2}, xticklabels={CR/PR,SD/PD},
 ytick={-5,-2.5,0,2.5},
 yticklabel style={/pgf/number format/.cd, fixed, fixed zerofill, precision=1},
 ticklabel style={font=\fs{7.5}{9}}, ylabel={Risk score}, ylabel style={font=\fs{7.5}{9}},
 legend style={at={(0.522,1.099)}, font=\fs{6}{7}}]
\addlegendimage{empty legend}\addlegendentry{binaryResponse}
\addlegendimage{legend image code/.code={\draw[Gcr,line width=0.5pt](0pt,-3.5pt) rectangle (9pt,3.5pt)(0pt,0pt)--(9pt,0pt)(4.5pt,-3.5pt)--(4.5pt,3.5pt);}}\addlegendentry{CR/PR}
\addlegendimage{legend image code/.code={\draw[Gsd,line width=0.5pt](0pt,-3.5pt) rectangle (9pt,3.5pt)(0pt,0pt)--(9pt,0pt)(4.5pt,-3.5pt)--(4.5pt,3.5pt);}}\addlegendentry{SD/PD}
\addplot[forget plot, draw=Gcr, line width=0.5pt, boxplot/draw direction=y, boxplot prepared={draw position=1, lower whisker=-1.9, lower quartile=-0.70, median=-0.15, upper quartile=0.49, upper whisker=2.3, box extend=0.7, whisker extend=0}] coordinates {};
\addplot[forget plot, draw=Gsd, line width=0.5pt, boxplot/draw direction=y, boxplot prepared={draw position=2, lower whisker=-1.85, lower quartile=-0.58, median=0.07, upper quartile=0.66, upper whisker=2.35, box extend=0.7, whisker extend=0}] coordinates {};
\addplot[forget plot, only marks, mark=*, mark size=1.1pt, Gcr] coordinates {(0.815,2.26)(1.185,2.35)(0.89,1.6)(0.93,1.51)(1.02,1.77)(1.03,1.56)(0.96,1.29)(0.876,1.22)(0.84,0.92)(0.9,0.92)(1.01,0.82)(1.17,1.0)(1.09,0.83)(0.92,0.58)(0.83,0.49)(0.96,0.54)(1.01,0.49)(1.06,0.61)(1.13,0.36)(1.16,0.36)(0.88,0.32)(0.94,0.2)(0.98,0.1)(1.03,0.1)(1.08,0.07)(1.12,0.12)(0.84,-0.02)(0.9,-0.1)(1.04,-0.14)(1.14,-0.14)(1.19,-0.07)(0.94,-0.24)(0.89,-0.41)(1.0,-0.41)(1.09,-0.44)(0.81,-0.7)(0.94,-0.61)(1.13,-0.7)(1.06,-0.78)(0.88,-0.87)(0.99,-0.95)(0.86,-1.12)(0.89,-1.26)(0.84,-1.38)(1.09,-1.21)(1.11,-1.29)(0.95,-1.46)(1.04,-1.72)(0.85,-1.84)(1.14,-1.8)(1.13,-1.84)(1.02,-2.48)(0.98,1.09)(1.13,1.21)(0.88,0.66)(0.99,0.36)(0.83,-0.24)(1.17,-0.53)};
\addplot[forget plot, only marks, mark=*, mark size=1.1pt, Gsd] coordinates {(1.86,2.35)(1.97,2.33)(2.10,2.20)(1.80,2.18)(1.92,2.18)(2.17,2.15)(1.95,1.98)(2.07,1.80)(1.84,1.70)(1.90,1.62)(2.12,1.70)(2.16,1.68)(2.19,1.60)(1.81,1.50)(1.88,1.45)(2.00,1.50)(2.05,1.40)(2.14,1.35)(2.20,1.30)(1.78,1.25)(1.83,1.22)(1.93,1.18)(1.98,1.30)(2.09,1.15)(2.18,1.10)(2.22,1.05)(1.80,1.05)(1.87,0.98)(1.95,0.95)(2.02,1.02)(2.11,0.90)(2.15,0.95)(1.79,0.85)(1.85,0.80)(1.91,0.78)(1.99,0.82)(2.04,0.75)(2.13,0.72)(2.19,0.80)(1.82,0.68)(1.89,0.62)(1.96,0.66)(2.06,0.60)(2.10,0.58)(2.21,0.62)(1.78,0.55)(1.84,0.50)(1.94,0.48)(2.01,0.52)(2.08,0.45)(2.16,0.47)(1.81,0.40)(1.87,0.36)(1.92,0.38)(1.98,0.33)(2.03,0.40)(2.12,0.30)(2.18,0.35)(2.22,0.28)(1.79,0.25)(1.86,0.22)(1.90,0.18)(1.97,0.20)(2.05,0.15)(2.09,0.22)(2.14,0.12)(2.20,0.18)(1.83,0.10)(1.88,0.05)(1.95,0.08)(2.00,0.02)(2.07,0.06)(2.11,-0.02)(2.17,0.04)(1.80,-0.05)(1.85,-0.10)(1.93,-0.08)(1.99,-0.15)(2.04,-0.10)(2.13,-0.18)(2.19,-0.12)(1.78,-0.22)(1.87,-0.28)(1.91,-0.25)(1.96,-0.32)(2.02,-0.27)(2.08,-0.35)(2.15,-0.30)(2.21,-0.38)(1.82,-0.42)(1.89,-0.48)(1.94,-0.45)(2.01,-0.52)(2.06,-0.46)(2.12,-0.55)(2.18,-0.50)(1.79,-0.60)(1.84,-0.66)(1.92,-0.62)(1.98,-0.70)(2.05,-0.68)(2.10,-0.75)(2.16,-0.64)(1.81,-0.82)(1.88,-0.88)(1.95,-0.85)(2.03,-0.92)(2.09,-0.86)(2.14,-0.95)(2.20,-0.90)(1.83,-1.02)(1.90,-1.08)(1.97,-1.05)(2.07,-1.12)(2.13,-1.00)(2.19,-1.15)(1.80,-1.20)(1.86,-1.28)(2.00,-1.22)(2.11,-1.30)(2.17,-1.25)(1.85,-1.42)(1.94,-1.50)(2.05,-1.45)(2.15,-1.55)(1.88,-1.65)(2.02,-1.70)(2.21,-1.62)(1.84,-1.78)(2.18,-1.85)(1.95,-1.88)(1.79,-2.70)(2.20,-2.75)(2.18,-2.95)(2.02,-4.60)(1.96,-4.70)(2.13,-4.75)(1.93,0.58)(2.16,0.85)(1.86,1.10)(2.06,1.25)(1.97,0.42)(2.19,-0.75)(1.82,0.30)(2.08,-0.58)(1.91,-0.95)(2.00,0.68)};
\addplot[forget plot, black!60, line width=0.5pt] coordinates {(1,2.5)(1,2.72)(2,2.72)(2,2.5)};
\node[font=\fs{6.5}{7}] at (axis cs:1.5,2.88) {0.38};
\end{axis}
% ================= H =================
\begin{axis}[scale only axis, at={(536.7pt,-1006.7pt)}, anchor=south west, width=185pt, height=176pt,
 xmin=-0.072, xmax=1.072, ymin=-0.046, ymax=1.041, tick align=outside, tick pos=left,
 major tick length=4pt, axis line style={black!85, line width=0.6pt}, tick style={black!85, line width=0.5pt},
 /pgf/number format/assume math mode=true,
 xtick={0,0.2,0.4,0.6,0.8,1}, ytick={0,0.2,0.4,0.6,0.8,1},
 xticklabel style={/pgf/number format/.cd, fixed, fixed zerofill, precision=1},
 yticklabel style={rotate=90, anchor=south, /pgf/number format/.cd, fixed, fixed zerofill, precision=1},
 ticklabel style={font=\fs{8}{9}}, xlabel={1 - Specificity}, ylabel={Sensitivity},
 label style={font=\fs{8}{9}}]
\addplot[gray!45, line width=0.6pt] coordinates {(-0.2,-0.2)(1.2,1.2)};
\addplot[Hroc, line width=1pt] coordinates {(0,0)(0.025,0)(0.025,0.02)(0.03,0.02)(0.03,0.05)(0.04,0.05)(0.04,0.07)(0.055,0.07)(0.055,0.09)(0.065,0.09)(0.065,0.11)(0.075,0.11)(0.075,0.14)(0.085,0.14)(0.085,0.16)(0.095,0.16)(0.095,0.18)(0.105,0.18)(0.105,0.19)(0.155,0.19)(0.155,0.21)(0.165,0.21)(0.165,0.22)(0.19,0.22)(0.19,0.24)(0.2,0.24)(0.2,0.26)(0.215,0.26)(0.215,0.28)(0.235,0.28)(0.235,0.29)(0.255,0.29)(0.255,0.30)(0.28,0.30)(0.28,0.32)(0.285,0.32)(0.285,0.35)(0.295,0.35)(0.295,0.37)(0.31,0.37)(0.31,0.40)(0.32,0.40)(0.32,0.43)(0.36,0.43)(0.36,0.45)(0.375,0.45)(0.375,0.46)(0.41,0.46)(0.41,0.48)(0.425,0.48)(0.425,0.51)(0.445,0.51)(0.445,0.53)(0.52,0.53)(0.52,0.55)(0.535,0.55)(0.535,0.57)(0.55,0.57)(0.55,0.59)(0.565,0.59)(0.565,0.62)(0.615,0.62)(0.615,0.63)(0.635,0.63)(0.635,0.65)(0.655,0.65)(0.655,0.69)(0.665,0.69)(0.665,0.72)(0.68,0.72)(0.68,0.74)(0.695,0.74)(0.695,0.77)(0.71,0.77)(0.71,0.79)(0.72,0.79)(0.72,0.81)(0.80,0.81)(0.80,0.84)(0.82,0.84)(0.82,0.86)(0.86,0.86)(0.86,0.87)(0.89,0.87)(0.89,0.89)(0.905,0.89)(0.905,0.91)(0.925,0.91)(0.925,0.93)(0.945,0.93)(0.945,0.95)(0.965,0.95)(0.965,0.97)(0.985,0.97)(0.985,0.99)(1,0.99)(1,1)};
\node[text=Hroc, font=\fs{8}{9}] at (axis cs:0.629,0.479) {AUC: 0.535};
\node[text=Hroc, font=\fs{8}{9}] at (axis cs:0.608,0.428) {95\% CI: 0.452-0.617};
\end{axis}
% ================= panel letters =================
\foreach \xx/\yy/\lab in {12/11/A,373/11/B,17/262/C,373/262/D,17/575/E,17/806/F,267/806/G,508/806/H}{\node[font=\serifL\fs{14}{14}] at (\xx,-\yy) {\lab};}
\end{tikzpicture}
\end{document}
